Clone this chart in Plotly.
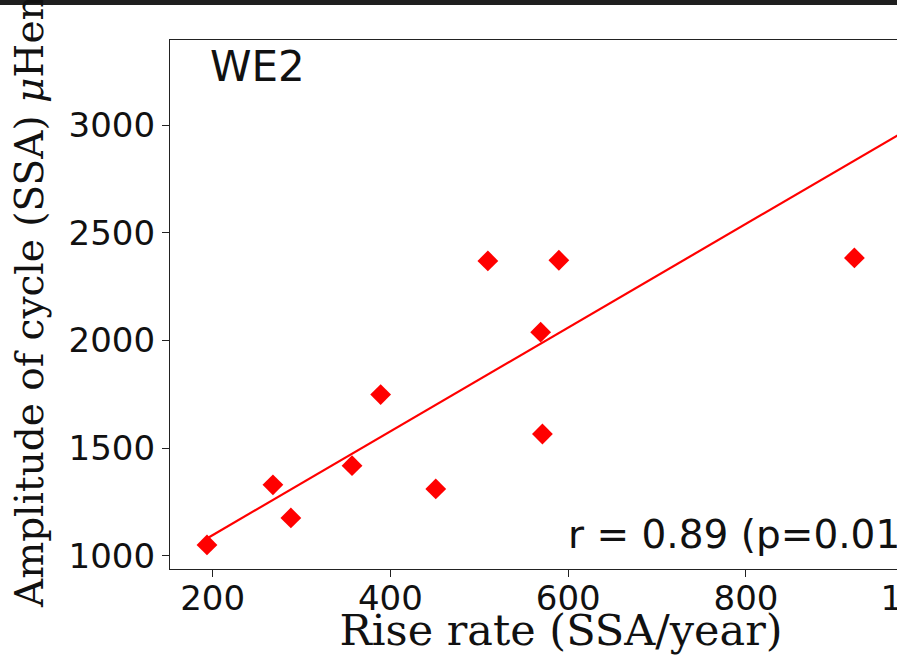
import plotly.graph_objects as go

# Rise rate vs. cycle amplitude, WE2 hemisphere
rise_rate = [193.6, 267.8, 288.0, 356.8, 389.0, 451.0, 509.6, 589.5, 569.0, 571.0, 922.0]
amplitude = [1050, 1329, 1175, 1418, 1748, 1310, 2369, 2372, 2038, 1565, 2383]

# Linear fit drawn across the data
fit_x = [194, 1000]
fit_y = [1081, 3023]

x_ticks = [200, 400, 600, 800, 1000]
y_ticks = [1000, 1500, 2000, 2500, 3000]

RED = "#ff0000"
INK = "#111111"
W, H = 1000, 655
L, R, T, B = 170, 48, 40, 86

fig = go.Figure()
fig.add_trace(go.Scatter(
    x=fit_x, y=fit_y, mode="lines",
    line=dict(color=RED, width=2.2), showlegend=False, hoverinfo="skip",
))
fig.add_trace(go.Scatter(
    x=rise_rate, y=amplitude, mode="markers",
    marker=dict(symbol="diamond", size=16, color=RED, line=dict(width=0)),
    showlegend=False,
))

axis_common = dict(
    showgrid=False, zeroline=False, showline=True, mirror=True,
    automargin=False,
    linecolor="#222222", linewidth=1.3,
    ticks="outside", ticklen=7, tickwidth=1.2, tickcolor="#222222",
    tickfont=dict(family="DejaVu Sans", size=34, color=INK),
)

fig.update_xaxes(
    range=[152, 1031.8], tickvals=x_ticks, ticklabelstandoff=-8,
    title=dict(text="Rise rate (SSA/year)",
               font=dict(family="DejaVu Serif", size=43, color=INK),
               standoff=0),
    **axis_common,
)
fig.update_yaxes(range=[938, 3395], tickvals=y_ticks, **axis_common)

plot_w = W - L - R
plot_h = H - T - B

# y-axis label, placed by hand so it sits where the page crops it
fig.add_annotation(
    text="Amplitude of cycle (SSA) <i>μ</i>Hem", textangle=-90,
    xref="paper", yref="paper",
    x=(29 - L) / plot_w, y=1 - (296 - T) / plot_h,
    xanchor="center", yanchor="middle", showarrow=False,
    font=dict(family="DejaVu Serif", size=39, color=INK),
)
fig.add_annotation(
    text="WE2", xref="paper", yref="paper",
    x=(208 - L) / plot_w, y=1 - (66 - T) / plot_h,
    xanchor="left", yanchor="middle", showarrow=False,
    font=dict(family="DejaVu Sans", size=42, color=INK),
)
fig.add_annotation(
    text="r = 0.89 (p=0.01)", xref="paper", yref="paper",
    x=(566 - L) / plot_w, y=(H - B - 534) / plot_h,
    xanchor="left", yanchor="middle", showarrow=False,
    font=dict(family="DejaVu Sans", size=39, color=INK),
)

# dark strip across the top edge of the page
fig.add_shape(
    type="rect", xref="paper", yref="paper",
    x0=-L / plot_w, x1=(W - L) / plot_w,
    y0=1 + (T - 5) / plot_h, y1=1 + T / plot_h,
    fillcolor="#1f1f1f", line=dict(width=0), layer="above",
)

fig.update_layout(
    width=W, height=H,
    margin=dict(l=L, r=R, t=T, b=B),
    paper_bgcolor="white", plot_bgcolor="white",
)

fig.write_html(
    "out.html",
    post_script="document.documentElement.style.overflow='hidden';"
                "document.body.style.overflow='hidden';"
                "document.body.style.margin='0';",
)
